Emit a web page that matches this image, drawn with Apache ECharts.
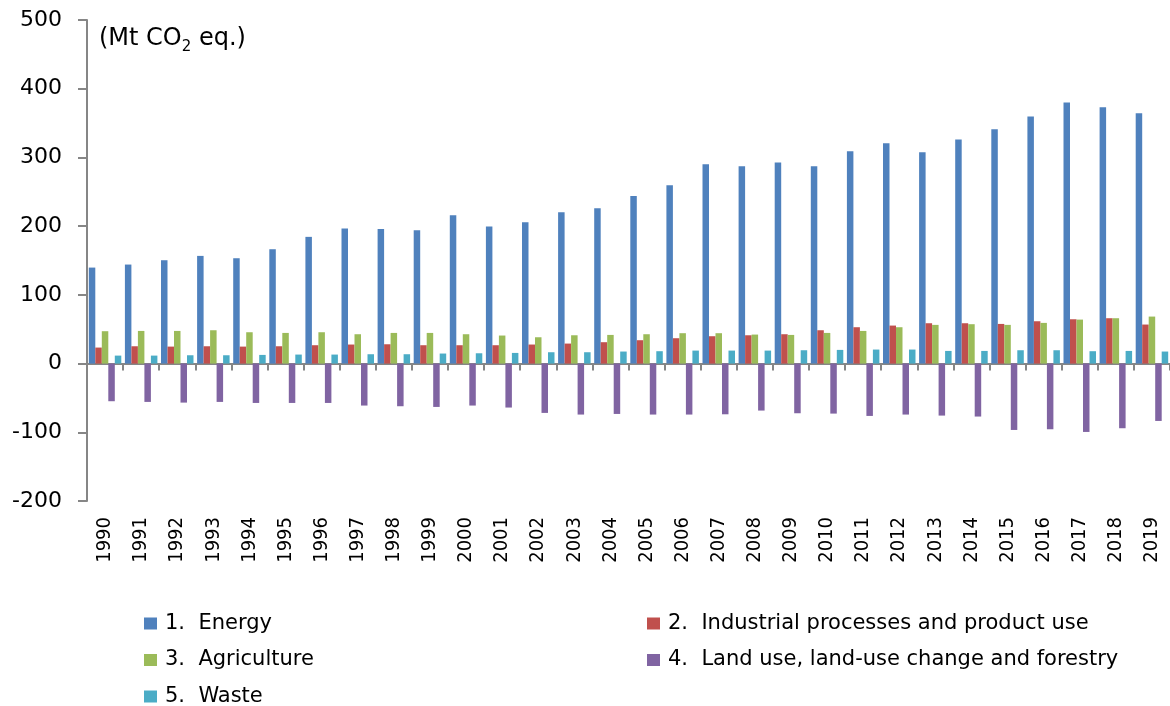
<!DOCTYPE html>
<html>
<head>
	<meta charset="utf-8">
	<title>GHG emissions by sector</title>
	<script src="https://cdn.jsdelivr.net/npm/echarts@6/dist/echarts.min.js"></script>
	<style>
		html, body { margin: 0; padding: 0; background: #fff; }
	</style>
</head>
<body>
	<div id="container" style="width: 1170px;height:706px;"></div>

	<script type="text/javascript">
	var years = ['1990','1991','1992','1993','1994','1995','1996','1997','1998','1999',
		'2000','2001','2002','2003','2004','2005','2006','2007','2008','2009',
		'2010','2011','2012','2013','2014','2015','2016','2017','2018','2019'];

	var energy = [139.7,144.1,150.4,156.7,153.3,166.4,184.4,196.5,196,194,
		216,199.4,205.7,220.3,226,244,259.6,290,287,292.6,
		287,309,320.7,307.6,326,341,359.5,380,373,364.4];
	var industrial = [23.3,25.2,24.7,25.2,24.7,25.2,26.7,27.7,28.1,26.7,
		26.7,26.7,27.7,29.1,31.1,34,36.9,39.8,41.2,42.7,
		48.5,52.9,55.3,58.7,58.7,57.7,61.6,64.5,66,56.8];
	var agriculture = [47.1,47.5,47.5,48.5,45.6,44.6,45.6,42.7,44.6,44.6,
		42.7,40.8,38.3,41.2,41.7,42.7,44.2,44.2,42.2,41.7,
		44.6,47.5,52.9,56.3,57.3,56.3,59.2,64,66,68.4];
	var lulucf = [-54.8,-55.8,-56.8,-55.8,-57.3,-57.3,-57.3,-61.1,-62.1,-63.1,
		-61.1,-64.0,-71.8,-74.2,-73.3,-74.2,-74.2,-73.8,-68.4,-72.3,
		-72.8,-76.2,-74.2,-75.7,-77.1,-96.6,-95.6,-99.5,-94.1,-83.5];
	var waste = [11.6,11.6,12.1,12.1,12.6,13.1,13.1,13.6,13.6,14.6,
		15,15.5,16.5,16.5,17.5,18,18.9,18.9,18.9,19.4,
		19.9,20.4,20.4,18.4,18.4,19.4,19.4,18,18.4,17.5];

	var names = ['1.  Energy', '2.  Industrial processes and product use', '3.  Agriculture',
		'4.  Land use, land-use change and forestry', '5.  Waste'];
	var colors = ['#4F81BD', '#C0504D', '#9BBB59', '#8064A2', '#4BACC6'];
	var values = [energy, industrial, agriculture, lulucf, waste];

	var axisGray = '#868686';

	var series = [];
	for (var i = 0; i < names.length; i++) {
		series.push({
			name: names[i],
			type: 'bar',
			data: values[i],
			barGap: '0%',
			barCategoryGap: '10%',
			itemStyle: { color: colors[i] },
			emphasis: { disabled: true }
		});
	}

	// two legend columns, like the original layout
	var legendCommon = {
		orient: 'vertical',
		icon: 'rect',
		itemWidth: 13,
		itemHeight: 12,
		itemGap: 15.5,
		padding: 0,
		height: 140,
		selectedMode: false,
		textStyle: { fontSize: 21, lineHeight: 20, color: '#000', fontFamily: 'DejaVu Sans', padding: [0, 0, 0, 3] }
	};

	var myChart = echarts.init(document.getElementById('container'));
	myChart.setOption({
		animation: false,
		textStyle: { fontFamily: 'DejaVu Sans' },
		color: colors,
		title: {
			text: '(Mt CO{s|2} eq.)',
			left: 94,
			top: 17,
			textStyle: {
				fontSize: 24,
				fontWeight: 'normal',
				color: '#000',
				fontFamily: 'DejaVu Sans',
				rich: {
					s: { fontSize: 15, color: '#000', fontFamily: 'DejaVu Sans', padding: [18, 0, 0, 0] }
				}
			}
		},
		legend: [
			Object.assign({}, legendCommon, { left: 144, top: 613, data: [names[0], names[2], names[4]] }),
			Object.assign({}, legendCommon, { left: 647, top: 613, data: [names[1], names[3]] })
		],
		grid: {
			left: 87,
			right: 0,
			top: 20,
			bottom: 205,
			containLabel: false,
			outerBoundsMode: 'none'
		},
		xAxis: [
			{
				type: 'category',
				data: years,
				axisLine: { onZero: true, lineStyle: { color: axisGray, width: 2 } },
				axisTick: { show: true, length: 7, interval: 0, lineStyle: { color: axisGray, width: 2 } },
				axisLabel: { show: false },
				splitLine: { show: false }
			},
			{
				type: 'category',
				data: years,
				position: 'bottom',
				axisLine: { show: false, onZero: false },
				axisTick: { show: false },
				axisLabel: {
					interval: 0,
					rotate: 90,
					margin: 16,
					fontSize: 20,
					color: '#000',
					fontFamily: 'DejaVu Sans Condensed'
				},
				splitLine: { show: false }
			}
		],
		yAxis: {
			type: 'value',
			min: -200,
			max: 500,
			interval: 100,
			axisLine: { show: true, lineStyle: { color: axisGray, width: 2 } },
			axisTick: { show: true, length: 9, lineStyle: { color: axisGray, width: 2 } },
			axisLabel: { margin: 25, fontSize: 22, color: '#000', fontFamily: 'DejaVu Sans' },
			splitLine: { show: false }
		},
		series: series
	});
	</script>
</body>
</html>
